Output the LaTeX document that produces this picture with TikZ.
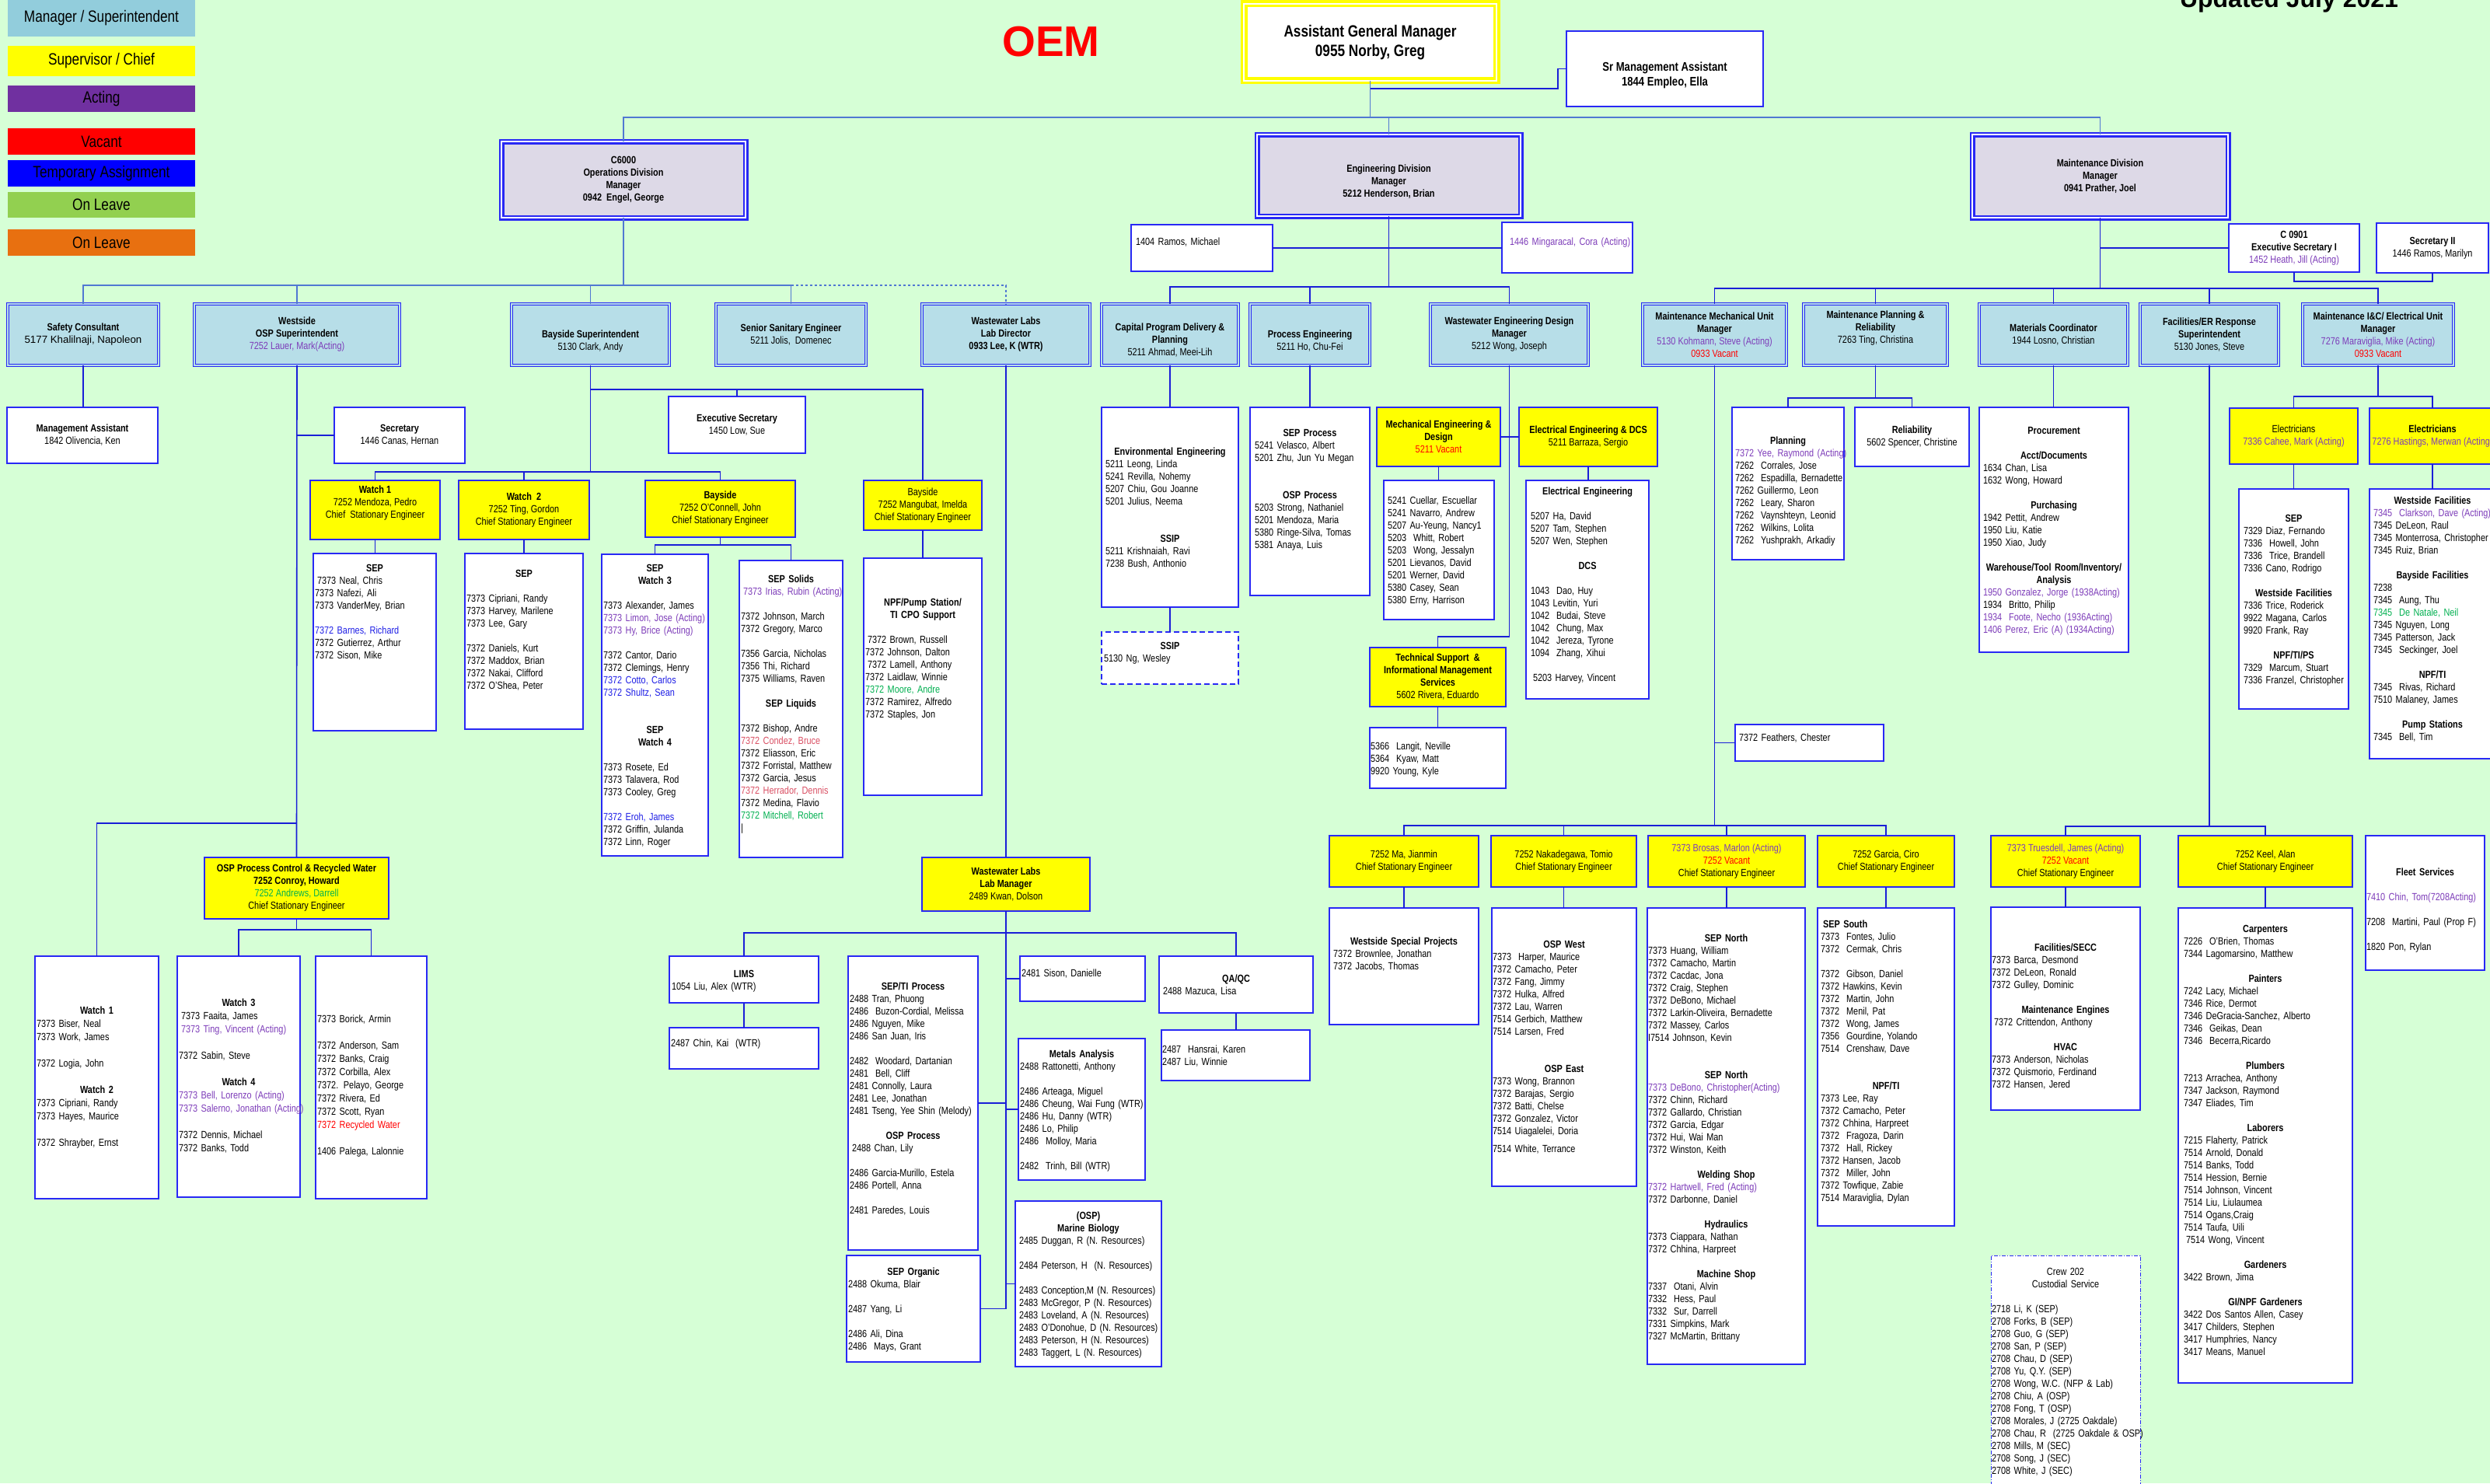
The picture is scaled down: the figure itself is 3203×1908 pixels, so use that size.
\documentclass[tikz,border=0pt]{standalone}
\usepackage{fontspec}
\setmainfont{Liberation Sans}[FakeStretch=0.82]
\newfontfamily\widefont{Liberation Sans}
\usetikzlibrary{calc}

\definecolor{bgc}{RGB}{214,255,214}
\definecolor{legmgr}{RGB}{146,205,220}
\definecolor{legact}{RGB}{112,48,160}
\definecolor{legleave}{RGB}{146,208,80}
\definecolor{legorange}{RGB}{232,112,16}
\definecolor{mgrfill}{RGB}{183,222,232}
\definecolor{divfill}{RGB}{221,217,231}
\definecolor{boxblue}{RGB}{40,40,245}
\definecolor{lineblue}{RGB}{25,30,215}
\definecolor{linelight}{RGB}{80,120,210}
\definecolor{actp}{RGB}{125,60,185}
\definecolor{tblue}{RGB}{30,30,230}
\definecolor{lvgreen}{RGB}{0,176,80}
\definecolor{pinkr}{RGB}{218,80,100}
\definecolor{vacred}{RGB}{255,0,0}
\definecolor{chief}{RGB}{255,255,0}

\newcommand\fs{\fontsize{13.3}{16}\selectfont}
\newcommand\cPu[1]{\textcolor{actp}{#1}}
\newcommand\cRd[1]{\textcolor{vacred}{#1}}
\newcommand\cTb[1]{\textcolor{tblue}{#1}}
\newcommand\cGr[1]{\textcolor{lvgreen}{#1}}
\newcommand\cPk[1]{\textcolor{pinkr}{#1}}
\newcommand\hdr[1]{\makebox[\curw][c]{\bfseries #1}}
\newcommand\hcn[1]{\makebox[\curw][c]{#1}}
% box: [extra]{name}{style}{x1}{y1}{x2}{y2}{centred text}
\newcommand\bx[8][]{\node[#3,minimum width={#6-#4},minimum height={#7-#5},anchor=north west,align=center,#1] (#2) at (#4,#5) {#8};}
% list text: [extra]{name}{x}{first baseline}{heading width}{lines}
\newcommand\tx[6][]{\node[lst,#1] (#2) at (#3,#4) {\def\curw{#5pt}#6};}

\begin{document}
\begin{tikzpicture}[x=1pt,y=-1pt,
  every node/.style={font=\fs,inner sep=0pt,outer sep=0pt},
  conn/.style={draw=lineblue,line width=1.6pt},
  connl/.style={draw=linelight,line width=1.6pt},
  wbox/.style={draw=boxblue,line width=1.4pt,fill=white},
  ybox/.style={draw=boxblue,line width=1.4pt,fill=chief},
  dbox/.style={draw=boxblue,line width=1.6pt,fill=white,dash pattern=on 7pt off 4pt},
  cbox/.style={draw=boxblue,line width=0.9pt,fill=white,dash pattern=on 5pt off 2pt on 1pt off 2pt},
  mgr/.style={draw=boxblue,line width=1.1pt,double=mgrfill,double distance=2.4pt,fill=mgrfill},
  div/.style={draw=boxblue,line width=2.2pt,double=white,double distance=2.6pt,fill=divfill,font=\fs\bfseries},
  agmbox/.style={draw=chief,line width=3.5pt,double=white,double distance=2pt,fill=white},
  srbox/.style={draw=boxblue,line width=2.6pt,fill=white},
  leg/.style={draw=none,font=\fontsize{21}{25}\selectfont},
  lst/.style={anchor=base west,text width=420pt,align=left},
]
\useasboundingbox (0,0) rectangle (3203,1908);
\fill[bgc] (0,0) rectangle (3203,1908);
\clip (0,0) rectangle (3203,1908);

% ---------- legend ----------
\bx[fill=legmgr]{lgMgr}{leg}{10}{0}{251}{47}{Manager / Superintendent}
\bx[fill=chief]{lgSup}{leg}{10}{59}{251}{98}{Supervisor / Chief}
\bx[fill=legact]{lgAct}{leg}{10}{110}{251}{144}{Acting}
\bx[fill=vacred]{lgVac}{leg}{10}{165}{251}{199}{Vacant}
\bx[fill=blue]{lgTmp}{leg}{10}{206}{251}{240}{Temporary Assignment}
\bx[fill=legleave]{lgLv1}{leg}{10}{247}{251}{280}{On Leave}
\bx[fill=legorange]{lgLv2}{leg}{10}{295}{251}{329}{On Leave}

% ---------- titles ----------
\node[font=\widefont\bfseries\fontsize{55}{60}\selectfont,text=vacred,anchor=base] (oem) at (1352,73) {OEM};
\node[font=\widefont\bfseries\fontsize{32}{36}\selectfont,anchor=base west] (upd) at (2804,10) {Updated July 2021};

% ---------- top ----------
\bx[font=\fontsize{21}{25}\selectfont\bfseries]{agm}{agmbox}{1600}{5}{1925}{104}{Assistant General Manager\\0955 Norby, Greg}
\bx{srma}{srbox}{2015}{40}{2268}{137}{}
\node[font=\fontsize{16}{19.5}\selectfont\bfseries,align=center] (srmaT) at (2141.5,97) {Sr Management Assistant\\1844 Empleo, Ella};

\bx{ops}{div}{645}{182}{959}{280}{C6000\\Operations Division\\Manager\\0942~~Engel, George}
\bx{eng}{div}{1617}{173}{1956}{278}{}
\node[font=\fs\bfseries,align=center] (engT) at (1786.5,233.5) {Engineering Division\\Manager\\5212 Henderson, Brian};
\bx{maint}{div}{2537}{173}{2866}{280}{Maintenance Division\\Manager\\0941 Prather, Joel}

% ---------- second level ----------
\bx{safety}{mgr}{10}{391}{204}{470}{\textbf{Safety Consultant}\\{\widefont 5177 Khalilnaji, Napoleon}}
\bx{westside}{mgr}{250}{391}{514}{470}{\textbf{Westside}\\\textbf{OSP Superintendent}\\\cPu{7252 Lauer, Mark(Acting)}}
\bx{bayside}{mgr}{658}{391}{861}{470}{}
\node[align=center] (baysideT) at (759.5,439) {\textbf{Bayside Superintendent}\\5130 Clark, Andy};
\bx{senior}{mgr}{921}{391}{1114}{470}{\textbf{Senior Sanitary Engineer}\\5211 Jolis,~ Domenec}
\bx{wwlab}{mgr}{1186}{391}{1402}{470}{\textbf{Wastewater Labs}\\\textbf{Lab Director}\\\textbf{0933 Lee, K (WTR)}}
\bx{capital}{mgr}{1417}{391}{1593}{470}{}
\node[align=center] (capitalT) at (1505,438) {\textbf{Capital Program Delivery \&}\\\textbf{Planning}\\5211 Ahmad, Meei-Lih};
\bx{process}{mgr}{1608}{391}{1762}{470}{}
\node[align=center] (processT) at (1685,439) {\textbf{Process Engineering}\\5211 Ho, Chu-Fei};
\bx{wwd}{mgr}{1840}{391}{2043}{470}{\textbf{Wastewater Engineering Design}\\\textbf{Manager}\\5212 Wong, Joseph}
\bx{mechunit}{mgr}{2113}{391}{2298}{470}{\textbf{Maintenance Mechanical Unit}\\\textbf{Manager}\\\cPu{5130 Kohmann, Steve (Acting)}\\\cRd{0933 Vacant}}
\bx{planrel}{mgr}{2320}{391}{2505}{470}{}
\node[align=center] (planrelT) at (2412.5,422) {\textbf{Maintenance Planning \&}\\\textbf{Reliability}\\7263 Ting, Christina};
\bx{materials}{mgr}{2546}{391}{2737}{470}{\textbf{Materials Coordinator}\\1944 Losno, Christian}
\bx{facil}{mgr}{2753}{391}{2931}{470}{\textbf{Facilities/ER Response}\\\textbf{Superintendent}\\5130 Jones, Steve}
\bx{ic}{mgr}{2962}{391}{3156}{470}{\textbf{Maintenance I\&C/ Electrical Unit}\\\textbf{Manager}\\\cPu{7276 Maraviglia, Mike (Acting)}\\\cRd{0933 Vacant}}

\bx{ramos}{wbox}{1455}{289}{1637}{349}{}
\tx{ramosT}{1461}{315}{170}{1404 Ramos, Michael}
\bx{ming}{wbox}{1932}{286}{2100}{351}{}
\tx{mingT}{1942}{315}{150}{\cPu{1446 Mingaracal, Cora (Acting)}}
\bx{execsec}{wbox}{2867}{288}{3035}{350}{\textbf{C 0901}\\\textbf{Executive Secretary I}\\\cPu{1452 Heath, Jill (Acting)}}
\bx{sec2}{wbox}{3057}{287}{3201}{351}{\textbf{Secretary II}\\1446 Ramos, Marilyn}

% ---------- operations branch ----------
\bx{mgmtasst}{wbox}{9}{524}{203}{596}{\textbf{Management Assistant}\\1842 Olivencia, Ken}
\bx{secr}{wbox}{430}{524}{598}{596}{\textbf{Secretary}\\1446 Canas, Hernan}
\bx{execB}{wbox}{860}{510}{1036}{583}{\textbf{Executive Secretary}\\1450 Low, Sue}

\bx{watch1}{ybox}{399}{618}{566}{694}{}
\node[align=center] (watch1T) at (482.5,647) {\textbf{Watch 1}\\7252 Mendoza, Pedro\\Chief~ Stationary Engineer};
\bx{watch2}{ybox}{590}{618}{758}{694}{\textbf{Watch~ 2}\\7252 Ting, Gordon\\Chief Stationary Engineer}
\bx{oconnell}{ybox}{830}{618}{1023}{691}{\textbf{Bayside}\\7252 O'Connell, John\\Chief Stationary Engineer}
\bx{mangubat}{ybox}{1111}{618}{1263}{682}{Bayside\\7252 Mangubat, Imelda\\Chief Stationary Engineer}

\bx{sep1}{wbox}{403}{712}{561}{940}{}
\tx{sep1T}{405}{735}{154}{\hdr{SEP}\\ \hspace*{3pt}7373 Neal, Chris\\ 7373 Nafezi, Ali\\ 7373 VanderMey, Brian\\[16pt] \cTb{7372 Barnes, Richard}\\ 7372 Gutierrez, Arthur\\ 7372 Sison, Mike}

\bx{sep2}{wbox}{598}{712}{750}{938}{}
\tx{sep2T}{600}{742}{148}{\hdr{SEP}\\[16pt] 7373 Cipriani, Randy\\ 7373 Harvey, Marilene\\ 7373 Lee, Gary\\[16pt] 7372 Daniels, Kurt\\ 7372 Maddox, Brian\\ 7372 Nakai, Clifford\\ 7372 O'Shea, Peter}

\bx{sep34}{wbox}{774}{713}{911}{1101}{}
\tx{sep34T}{776}{735}{133}{\hdr{SEP}\\ \hdr{Watch 3}\\[16pt] 7373 Alexander, James\\ \cPu{7373 Limon, Jose (Acting)}\\ \cPu{7373 Hy, Brice (Acting)}\\[16pt] 7372 Cantor, Dario\\ 7372 Clemings, Henry\\ \cTb{7372 Cotto, Carlos}\\ \cTb{7372 Shultz, Sean}\\[32pt] \hdr{SEP}\\ \hdr{Watch 4}\\[16pt] 7373 Rosete, Ed\\ 7373 Talavera, Rod\\ 7373 Cooley, Greg\\[16pt] \cTb{7372 Eroh, James}\\ 7372 Griffin, Julanda\\ 7372 Linn, Roger}

\bx{solids}{wbox}{951}{721}{1084}{1103}{}
\tx{solidsT}{953}{749}{129}{\hdr{SEP Solids}\\ \hspace*{3pt}\cPu{7373 Irias, Rubin (Acting)}\\[16pt] 7372 Johnson, March\\ 7372 Gregory, Marco\\[16pt] 7356 Garcia, Nicholas\\ 7356 Thi, Richard\\ 7375 Williams, Raven\\[16pt] \hdr{SEP Liquids}\\[16pt] 7372 Bishop, Andre\\ \cPk{7372 Condez, Bruce}\\ 7372 Eliasson, Eric\\ 7372 Forristal, Matthew\\ 7372 Garcia, Jesus\\ \cPk{7372 Herrador, Dennis}\\ 7372 Medina, Flavio\\ \cGr{7372 Mitchell, Robert}\\ |}

\bx{npf}{wbox}{1111}{718}{1263}{1023}{}
\tx{npfT}{1113}{779}{148}{\hdr{NPF/Pump Station/}\\ \hdr{TI CPO Support}\\[16pt] \hspace*{3pt}7372 Brown, Russell\\ 7372 Johnson, Dalton\\ \hspace*{3pt}7372 Lamell, Anthony\\ 7372 Laidlaw, Winnie\\ \cGr{7372 Moore, Andre}\\ 7372 Ramirez, Alfredo\\ 7372 Staples, Jon}

\bx{osppc}{ybox}{263}{1103}{500}{1182}{\textbf{OSP Process Control \& Recycled Water}\\\textbf{7252 Conroy, Howard}\\\cGr{7252 Andrews, Darrell}\\Chief Stationary Engineer}

\bx{boxA}{wbox}{45}{1230}{204}{1542}{}
\tx[font=\fontsize{13.3}{17}\selectfont]{boxAT}{47}{1304}{155}{\hdr{Watch 1}\\ 7373 Biser, Neal\\ 7373 Work, James\\[17pt] 7372 Logia, John\\[17pt] \hdr{Watch 2}\\ 7373 Cipriani, Randy\\ 7373 Hayes, Maurice\\[17pt] 7372 Shrayber, Ernst}
\bx{boxB}{wbox}{228}{1230}{386}{1540}{}
\tx[font=\fontsize{13.3}{17}\selectfont]{boxBT}{230}{1294}{154}{\hdr{Watch 3}\\ \hspace*{3pt}7373 Faaita, James\\ \hspace*{3pt}\cPu{7373 Ting, Vincent (Acting)}\\[17pt] 7372 Sabin, Steve\\[17pt] \hdr{Watch 4}\\ \cPu{7373 Bell, Lorenzo (Acting)}\\ \cPu{7373 Salerno, Jonathan (Acting)}\\[17pt] 7372 Dennis, Michael\\ 7372 Banks, Todd}
\bx{boxC}{wbox}{406}{1230}{549}{1542}{}
\tx[font=\fontsize{13.3}{17}\selectfont]{boxCT}{408}{1315}{139}{7373 Borick, Armin\\[17pt] 7372 Anderson, Sam\\ 7372 Banks, Craig\\ 7372 Corbilla, Alex\\ 7372. Pelayo, George\\ 7372 Rivera, Ed\\ 7372 Scott, Ryan\\ \cRd{7372 Recycled Water}\\[17pt] 1406 Palega, Lalonnie}

% ---------- wastewater labs ----------
\bx{labmgr}{ybox}{1186}{1103}{1402}{1172}{\textbf{Wastewater Labs}\\\textbf{Lab Manager}\\2489 Kwan, Dolson}
\bx{lims}{wbox}{861}{1230}{1053}{1290}{}
\tx{limsT}{864}{1257}{186}{\hdr{LIMS}\\ 1054 Liu, Alex (WTR)}
\bx{chinkai}{wbox}{861}{1322}{1053}{1375}{}
\tx{chinkaiT}{863}{1346}{186}{2487 Chin, Kai~ (WTR)}
\bx{septi}{wbox}{1091}{1230}{1258}{1608}{}
\tx{septiT}{1093}{1273}{163}{\hdr{SEP/TI Process}\\ 2488 Tran, Phuong\\ 2486~ Buzon-Cordial, Melissa\\ 2486 Nguyen, Mike\\ 2486 San Juan, Iris\\[16pt] 2482~ Woodard, Dartanian\\ 2481~ Bell, Cliff\\ 2481 Connolly, Laura\\ 2481 Lee, Jonathan\\ 2481 Tseng, Yee Shin (Melody)\\[16pt] \hdr{OSP Process}\\ \hspace*{3pt}2488 Chan, Lily\\[16pt] 2486 Garcia-Murillo, Estela\\ 2486 Portell, Anna\\[16pt] 2481 Paredes, Louis}
\bx{seporg}{wbox}{1089}{1615}{1261}{1752}{}
\tx{seporgT}{1091}{1640}{168}{\hdr{SEP Organic}\\ 2488 Okuma, Blair\\[16pt] 2487 Yang, Li\\[16pt] 2486 Ali, Dina\\ 2486~ Mays, Grant}
\bx{sison}{wbox}{1312}{1230}{1473}{1288}{}
\tx{sisonT}{1314}{1256}{157}{2481 Sison, Danielle}
\bx{metals}{wbox}{1310}{1336}{1473}{1518}{}
\tx{metalsT}{1312}{1360}{159}{\hdr{Metals Analysis}\\ 2488 Rattonetti, Anthony\\[16pt] 2486 Arteaga, Miguel\\ 2486 Cheung, Wai Fung (WTR)\\ 2486 Hu, Danny (WTR)\\ 2486 Lo, Philip\\ 2486~ Molloy, Maria\\[16pt] 2482~ Trinh, Bill (WTR)}
\bx{marine}{wbox}{1306}{1545}{1494}{1758}{}
\tx{marineT}{1311}{1568}{178}{\hdr{(OSP)}\\ \hdr{Marine Biology}\\ 2485 Duggan, R (N. Resources)\\[16pt] 2484 Peterson, H~ (N. Resources)\\[16pt] 2483 Conception,M (N. Resources)\\ 2483 McGregor, P (N. Resources)\\ 2483 Loveland, A (N. Resources)\\ 2483 O'Donohue, D (N. Resources)\\ 2483 Peterson, H (N. Resources)\\ 2483 Taggert, L (N. Resources)}
\bx{qaqc}{wbox}{1491}{1230}{1689}{1303}{}
\tx{qaqcT}{1496}{1263}{188}{\hdr{QA/QC}\\ 2488 Mazuca, Lisa}
\bx{hansrai}{wbox}{1494}{1325}{1685}{1390}{}
\tx{hansraiT}{1495}{1354}{189}{2487~ Hansrai, Karen\\ 2487 Liu, Winnie}

% ---------- engineering branch ----------
\bx{env}{wbox}{1417}{524}{1593}{781}{}
\tx{envT}{1422}{585}{166}{\hdr{Environmental Engineering}\\ 5211 Leong, Linda\\ 5241 Revilla, Nohemy\\ 5207 Chiu, Gou Joanne\\ 5201 Julius, Neema\\[32pt] \hdr{SSIP}\\ 5211 Krishnaiah, Ravi\\ 7238 Bush, Anthonio}
\bx{ssip}{dbox}{1417}{813}{1593}{880}{}
\tx{ssipT}{1420}{835}{170}{\hdr{SSIP}\\ 5130 Ng, Wesley}
\bx{sepproc}{wbox}{1608}{524}{1762}{766}{}
\tx{sepprocT}{1614}{561}{142}{\hdr{SEP Process}\\ 5241 Velasco, Albert\\ 5201 Zhu, Jun Yu Megan\\[32pt] \hdr{OSP Process}\\ 5203 Strong, Nathaniel\\ 5201 Mendoza, Maria\\ 5380 Ringe-Silva, Tomas\\ 5381 Anaya, Luis}
\bx{mechd}{ybox}{1771}{524}{1930}{600}{\textbf{Mechanical Engineering \&}\\\textbf{Design}\\\cRd{5211 Vacant}}
\bx{elecd}{ybox}{1954}{524}{2132}{600}{\textbf{Electrical Engineering \& DCS}\\5211 Barraza, Sergio}
\bx{mechlist}{wbox}{1780}{618}{1922}{797}{}
\tx{mechlistT}{1785}{648}{132}{5241 Cuellar, Escuellar\\ 5241 Navarro, Andrew\\ 5207 Au-Yeung, Nancy1\\ 5203~~Whitt, Robert\\ 5203~~Wong, Jessalyn\\ 5201 Lievanos, David\\ 5201 Werner, David\\ 5380 Casey, Sean\\ 5380 Erny, Harrison}
\bx{eleclist}{wbox}{1963}{618}{2121}{899}{}
\tx{eleclistT}{1969}{636}{146}{\hdr{Electrical Engineering}\\[16pt] 5207 Ha, David\\ 5207 Tam, Stephen\\ 5207 Wen, Stephen\\[16pt] \hdr{DCS}\\[16pt] 1043~~Dao, Huy\\ 1043 Levitin, Yuri\\ 1042~~Budai, Steve\\ 1042~~Chung, Max\\ 1042~~Jereza, Tyrone\\ 1094~~Zhang, Xihui\\[16pt] \hspace*{3pt}5203 Harvey, Vincent}
\bx{tech}{ybox}{1762}{833}{1937}{909}{\textbf{Technical Support~ \&}\\\textbf{Informational Management}\\\textbf{Services}\\5602 Rivera, Eduardo}
\bx{techlist}{wbox}{1762}{936}{1937}{1014}{}
\tx{techlistT}{1763}{964}{172}{5366~~Langit, Neville\\ 5364~~Kyaw, Matt\\ 9920 Young, Kyle}

% ---------- maintenance branch ----------
\bx{feathers}{wbox}{2232}{932}{2423}{979}{}
\tx{feathersT}{2237}{953}{180}{7372 Feathers, Chester}
\bx{planning}{wbox}{2228}{524}{2372}{720}{}
\tx{planningT}{2232}{571}{136}{\hdr{Planning}\\ \cPu{7372 Yee, Raymond (Acting)}\\ 7262~~Corrales, Jose\\ 7262~~Espadilla, Bernadette\\ 7262 Guillermo, Leon\\ 7262~~Leary, Sharon\\ 7262~~Vaynshteyn, Leonid\\ 7262~~Wilkins, Lolita\\ 7262~~Yushprakh, Arkadiy}
\bx{reliab}{wbox}{2386}{524}{2533}{600}{\textbf{Reliability}\\5602 Spencer, Christine}
\bx{procure}{wbox}{2546}{524}{2738}{839}{}
\tx{procureT}{2551}{558}{182}{\hdr{Procurement}\\[16pt] \hdr{Acct/Documents}\\ 1634 Chan, Lisa\\ 1632 Wong, Howard\\[16pt] \hdr{Purchasing}\\ 1942 Pettit, Andrew\\ 1950 Liu, Katie\\ 1950 Xiao, Judy\\[16pt] \hdr{Warehouse/Tool Room/Inventory/}\\ \hdr{Analysis}\\ \cPu{1950 Gonzalez, Jorge (1938Acting)}\\ 1934~~Britto, Philip\\ \cPu{1934~~Foote, Necho (1936Acting)}\\ \cPu{1406 Perez, Eric (A) (1934Acting)}}

\bx{elec1}{ybox}{2868}{525}{3033}{597}{Electricians\\\cPu{7336 Cahee, Mark (Acting)}}
\bx{elec2}{ybox}{3048}{525}{3210}{597}{\textbf{Electricians}\\\cPu{7276 Hastings, Merwan (Acting)}}
\bx{sepm}{wbox}{2880}{629}{3021}{912}{}
\tx{sepmT}{2886}{671}{129}{\hdr{SEP}\\ 7329 Diaz, Fernando\\ 7336~~Howell, John\\ 7336~~Trice, Brandell\\ 7336 Cano, Rodrigo\\[16pt] \hdr{Westside Facilities}\\ 7336 Trice, Roderick\\ 9922 Magana, Carlos\\ 9920 Frank, Ray\\[16pt] \hdr{NPF/TI/PS}\\ 7329~~Marcum, Stuart\\ 7336 Franzel, Christopher}
\bx{wsfac}{wbox}{3048}{629}{3210}{976}{}
\tx{wsfacT}{3053}{648}{152}{\hdr{Westside Facilities}\\ \cPu{7345~~Clarkson, Dave (Acting)}\\ 7345 DeLeon, Raul\\ 7345 Monterrosa, Christopher\\ 7345 Ruiz, Brian\\[16pt] \hdr{Bayside Facilities}\\ 7238\\ 7345~~Aung, Thu\\ \cGr{7345~~De Natale, Neil}\\ 7345 Nguyen, Long\\ 7345 Patterson, Jack\\ 7345~~Seckinger, Joel\\[16pt] \hdr{NPF/TI}\\ 7345~~Rivas, Richard\\ 7510 Malaney, James\\[16pt] \hdr{Pump Stations}\\ 7345~~Bell, Tim}

\bx{ma}{ybox}{1710}{1075}{1902}{1141}{7252 Ma, Jianmin\\Chief Stationary Engineer}
\bx{naka}{ybox}{1918}{1075}{2105}{1141}{7252 Nakadegawa, Tomio\\Chief Stationary Engineer}
\bx{brosas}{ybox}{2120}{1075}{2322}{1141}{\cPu{7373 Brosas, Marlon (Acting)}\\\cRd{7252 Vacant}\\Chief Stationary Engineer}
\bx{garcia}{ybox}{2338}{1075}{2514}{1141}{7252 Garcia, Ciro\\Chief Stationary Engineer}
\bx{truesdell}{ybox}{2561}{1075}{2753}{1141}{\cPu{7373 Truesdell, James (Acting)}\\\cRd{7252 Vacant}\\Chief Stationary Engineer}
\bx{keel}{ybox}{2802}{1075}{3026}{1141}{7252 Keel, Alan\\Chief Stationary Engineer}
\bx{fleet}{wbox}{3043}{1075}{3196}{1248}{}
\tx{fleetT}{3044}{1126}{151}{\hdr{Fleet Services}\\[16pt] \cPu{7410 Chin, Tom(7208Acting)}\\[16pt] 7208~~Martini, Paul (Prop F)\\[16pt] 1820 Pon, Rylan}

\bx{wsp}{wbox}{1710}{1168}{1902}{1318}{}
\tx{wspT}{1715}{1215}{182}{\hdr{Westside Special Projects}\\ 7372 Brownlee, Jonathan\\ 7372 Jacobs, Thomas}
\bx{ospwest}{wbox}{1919}{1168}{2105}{1526}{}
\tx{ospwestT}{1920}{1219}{184}{\hdr{OSP West}\\ 7373~~Harper, Maurice\\ 7372 Camacho, Peter\\ 7372 Fang, Jimmy\\ 7372 Hulka, Alfred\\ 7372 Lau, Warren\\ 7514 Gerbich, Matthew\\ 7514 Larsen, Fred\\[32pt] \hdr{OSP East}\\ 7373 Wong, Brannon\\ 7372 Barajas, Sergio\\ 7372 Batti, Chelse\\ 7372 Gonzalez, Victor\\ 7514 Uiagalelei, Doria\\[7pt] 7514 White, Terrance}
\bx{sepnorth}{wbox}{2119}{1168}{2322}{1755}{}
\tx{sepnorthT}{2120}{1211}{201}{\hdr{SEP North}\\ 7373 Huang, William\\ 7372 Camacho, Martin\\ 7372 Cacdac, Jona\\ 7372 Craig, Stephen\\ 7372 DeBono, Michael\\ 7372 Larkin-Oliveira, Bernadette\\ 7372 Massey, Carlos\\ I7514 Johnson, Kevin\\[32pt] \hdr{SEP North}\\ \cPu{7373 DeBono, Christopher(Acting)}\\ 7372 Chinn, Richard\\ 7372 Gallardo, Christian\\ 7372 Garcia, Edgar\\ 7372 Hui, Wai Man\\ 7372 Winston, Keith\\[16pt] \hdr{Welding Shop}\\ \cPu{7372 Hartwell, Fred (Acting)}\\ 7372 Darbonne, Daniel\\[16pt] \hdr{Hydraulics}\\ 7373 Ciappara, Nathan\\ 7372 Chhina, Harpreet\\[16pt] \hdr{Machine Shop}\\ 7337~~Otani, Alvin\\ 7332~~Hess, Paul\\ 7332~~Sur, Darrell\\ 7331 Simpkins, Mark\\ 7327 McMartin, Brittany}
\bx{sepsouth}{wbox}{2338}{1168}{2514}{1577}{}
\tx{sepsouthT}{2342}{1193}{168}{\hspace*{3pt}\textbf{SEP South}\\ 7373~~Fontes, Julio\\ 7372~~Cermak, Chris\\[16pt] 7372~~Gibson, Daniel\\ 7372 Hawkins, Kevin\\ 7372~~Martin, John\\ 7372~~Menil, Pat\\ 7372~~Wong, James\\ 7356~~Gourdine, Yolando\\ 7514~~Crenshaw, Dave\\[32pt] \hdr{NPF/TI}\\ 7373 Lee, Ray\\ 7372 Camacho, Peter\\ 7372 Chhina, Harpreet\\ 7372~~Fragoza, Darin\\ 7372~~Hall, Rickey\\ 7372 Hansen, Jacob\\ 7372~~Miller, John\\ 7372 Towfique, Zabie\\ 7514 Maraviglia, Dylan}
\bx{secc}{wbox}{2561}{1167}{2753}{1428}{}
\tx{seccT}{2562}{1223}{190}{\hdr{Facilities/SECC}\\ 7373 Barca, Desmond\\ 7372 DeLeon, Ronald\\ 7372 Gulley, Dominic\\[16pt] \hdr{Maintenance Engines}\\ \hspace*{3pt}7372 Crittendon, Anthony\\[16pt] \hdr{HVAC}\\ 7373 Anderson, Nicholas\\ 7372 Quismorio, Ferdinand\\ 7372 Hansen, Jered}
\bx{crew}{cbox}{2561}{1615}{2753}{1930}{}
\tx{crewT}{2562}{1640}{190}{\hcn{Crew 202}\\ \hcn{Custodial Service}\\[16pt] 2718 Li, K (SEP)\\ 2708 Forks, B (SEP)\\ 2708 Guo, G (SEP)\\ 2708 San, P (SEP)\\ 2708 Chau, D (SEP)\\ 2708 Yu, Q.Y. (SEP)\\ 2708 Wong, W.C. (NFP \& Lab)\\ 2708 Chiu, A (OSP)\\ 2708 Fong, T (OSP)\\ 2708 Morales, J (2725 Oakdale)\\ 2708 Chau, R~ (2725 Oakdale \& OSP)\\ 2708 Mills, M (SEC)\\ 2708 Song, J (SEC)\\ 2708 White, J (SEC)}
\bx{carp}{wbox}{2802}{1168}{3026}{1779}{}
\tx{carpT}{2809}{1199}{210}{\hdr{Carpenters}\\ 7226~~O'Brien, Thomas\\ 7344 Lagomarsino, Matthew\\[16pt] \hdr{Painters}\\ 7242 Lacy, Michael\\ 7346 Rice, Dermot\\ 7346 DeGracia-Sanchez, Alberto\\ 7346~~Geikas, Dean\\ 7346~~Becerra,Ricardo\\[16pt] \hdr{Plumbers}\\ 7213 Arrachea, Anthony\\ 7347 Jackson, Raymond\\ 7347 Eliades, Tim\\[16pt] \hdr{Laborers}\\ 7215 Flaherty, Patrick\\ 7514 Arnold, Donald\\ 7514 Banks, Todd\\ 7514 Hession, Bernie\\ 7514 Johnson, Vincent\\ 7514 Liu, Liulaumea\\ 7514 Ogans,Craig\\ 7514 Taufa, Uili\\ \hspace*{3pt}7514 Wong, Vincent\\[16pt] \hdr{Gardeners}\\ 3422 Brown, Jima\\[16pt] \hdr{GI/NPF Gardeners}\\ 3422 Dos Santos Allen, Casey\\ 3417 Childers, Stephen\\ 3417 Humphries, Nancy\\ 3417 Means, Manuel}

% ---------- junction levels ----------
\coordinate (busTop) at (0,151);
\coordinate (agmJ) at (0,114);
\coordinate (busOps) at (0,367);
\coordinate (busEng) at (0,369);
\coordinate (busMnt) at (0,371);
\coordinate (secJ) at (0,362);
\coordinate (bayJ) at (0,501);
\coordinate (busW) at (0,607);
\coordinate (busO) at (0,701);
\coordinate (wsJ) at (0,1059);
\coordinate (busPC) at (0,1196);
\coordinate (busLab) at (0,1200);
\coordinate (techJ) at (0,819);
\coordinate (busPR) at (0,512);
\coordinate (busIC) at (0,510);
\coordinate (busM) at (0,1062);
\coordinate (busF) at (0,1063);

% ---------- connectors ----------
\draw[connl] (agm.south) -- (agm.south |- busTop);
\draw[conn] (agm.south |- agmJ) -| ([xshift=-11pt]srma.west) -- (srma.west);
\draw[connl] (ops.north) -- (ops.north |- busTop) -| (maint.north);
\draw[connl] (eng.north) -- (eng.north |- busTop);

\draw[connl] (ops.south) -- (ops.south |- busOps);
\draw[connl] (safety.north) -- (safety.north |- busOps) -| (senior.north);
\draw[connl] (westside.north) -- (westside.north |- busOps);
\draw[connl] (bayside.north) -- (bayside.north |- busOps);
\draw[connl,dashed] (senior.north |- busOps) -| (wwlab.north);

\draw[conn] (safety.south) -- (safety.south |- mgmtasst.north);
\draw[conn] (westside.south) -- (osppc.north);
\draw[conn] (westside.south |- secr.west) -- (secr.west);
\draw[conn] (westside.south |- wsJ) -| (boxA.north);
\draw[conn] (osppc.south) -- (osppc.south |- busPC);
\draw[conn] (boxB.north) -- (boxB.north |- busPC) -| (boxC.north);
\draw[conn] (bayside.south) -- (bayside.south |- busW);
\draw[conn] (bayside.south |- bayJ) -| (mangubat.north);
\draw[conn] (execB.north) -- (execB.north |- bayJ);
\draw[conn] (watch1.north) -- (watch1.north |- busW) -| (oconnell.north);
\draw[conn] (watch2.north) -- (watch2.north |- busW);
\draw[conn] (watch1.south) -- (watch1.south |- sep1.north);
\draw[conn] (watch2.south) -- (watch2.south |- sep2.north);
\draw[conn] (oconnell.south) -- (oconnell.south |- busO);
\draw[conn] (sep34.north) -- (sep34.north |- busO) -| (solids.north);
\draw[conn] (mangubat.south) -- (mangubat.south |- npf.north);

\draw[conn] (wwlab.south) -- (labmgr.north);
\draw[conn] (labmgr.south) -- (labmgr.south |- seporg.east) -- (seporg.east);
\draw[conn] (lims.north) -- (lims.north |- busLab) -| (qaqc.north);
\draw[conn] (septi.east) -- (septi.east -| labmgr.south);
\draw[conn] (sison.west) -- (sison.west -| labmgr.south);
\draw[conn] (metals.west) -- (metals.west -| labmgr.south);
\draw[conn] (marine.west) -- (marine.west -| labmgr.south);
\draw[conn] (lims.south) -- (chinkai.north);
\draw[conn] (qaqc.south) -- (qaqc.south |- hansrai.north);

\draw[conn] (eng.south) -- (eng.south |- busEng);
\draw[conn] (ramos.east) -- (ramos.east -| ming.west);
\draw[conn] (capital.north) -- (capital.north |- busEng) -| (wwd.north);
\draw[conn] (process.north) -- (process.north |- busEng);
\draw[conn] (capital.south) -- (env.north);
\draw[conn] (env.south) -- (ssip.north);
\draw[conn] (process.south) -- (sepproc.north);
\draw[conn] (wwd.south) -- (wwd.south |- techJ) -| (tech.north);
\draw[conn] (mechd.east) -- (elecd.west);
\draw[conn] (mechd.south) -- (mechd.south |- mechlist.north);
\draw[conn] (elecd.south) -- (elecd.south |- eleclist.north);
\draw[conn] (tech.south) -- (techlist.north);

\draw[conn] (maint.south) -- (maint.south |- busMnt);
\draw[conn] (maint.south |- execsec.west) -- (execsec.west);
\draw[conn] (execsec.south) -- (execsec.south |- secJ) -| (sec2.south);
\draw[conn] (mechunit.north) -- (mechunit.north |- busMnt) -| (ic.north);
\draw[conn] (planrel.north) -- (planrel.north |- busMnt);
\draw[conn] (materials.north) -- (materials.north |- busMnt);
\draw[conn] (facil.north) -- (facil.north |- busMnt);

\draw[conn] (mechunit.south) -- (mechunit.south |- busM);
\draw[conn] (mechunit.south |- feathers.west) -- (feathers.west);
\draw[conn] (ma.north) -- (ma.north |- busM) -| (garcia.north);
\draw[conn] (naka.north) -- (naka.north |- busM);
\draw[conn] (brosas.north) -- (brosas.north |- busM);
\draw[conn] (ma.south) -- (wsp.north);
\draw[conn] (naka.south) -- (naka.south |- ospwest.north);
\draw[conn] (brosas.south) -- (brosas.south |- sepnorth.north);
\draw[conn] (garcia.south) -- (garcia.south |- sepsouth.north);

\draw[conn] (planrel.south) -- (planrel.south |- busPR);
\draw[conn] (planning.north) -- (planning.north |- busPR) -| (reliab.north);
\draw[conn] (materials.south) -- (materials.south |- procure.north);
\draw[conn] (facil.south) -- (facil.south |- busF);
\draw[conn] (truesdell.north) -- (truesdell.north |- busF) -| (keel.north);
\draw[conn] (truesdell.south) -- (truesdell.south |- secc.north);
\draw[conn] (keel.south) -- (keel.south |- carp.north);
\draw[conn] (ic.south) -- (ic.south |- busIC);
\draw[conn] (elec1.north) -- (elec1.north |- busIC) -| (elec2.north);
\draw[conn] (elec1.south) -- (elec1.south |- sepm.north);
\draw[conn] (elec2.south) -- (elec2.south |- wsfac.north);
\end{tikzpicture}
\end{document}
